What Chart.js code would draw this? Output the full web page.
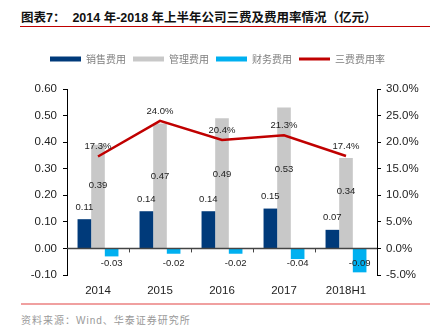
<!DOCTYPE html>
<html>
<head>
<meta charset="utf-8">
<script src="https://cdn.jsdelivr.net/npm/chart.js@4.4.0/dist/chart.umd.min.js"></script>
<style>
  body { margin: 0; width: 435px; height: 330px; background: #fff; position: relative; overflow: hidden;
         font-family: "Liberation Sans", Arial, "Noto Sans CJK SC", sans-serif; }
  #title { position: absolute; left: 21px; top: 7px; font-size: 12.5px; font-weight: bold; color: #111; white-space: nowrap; }
  #topline { position: absolute; left: 20px; top: 26px; width: 410px; height: 1px; background: #c00000; }
  #wrap { position: absolute; left: 0; top: 40px; width: 435px; height: 260px; }
  #botline { position: absolute; left: 21px; top: 303px; width: 409px; height: 2px; background: #f0a0a0; }
  #source { position: absolute; left: 21px; top: 312px; font-size: 10px; color: #999; letter-spacing: 1px; white-space: nowrap; }
</style>
</head>
<body>
<div id="title">图表7：&nbsp;&nbsp;2014 年-2018 年上半年公司三费及费用率情况（亿元）</div>
<div id="topline"></div>
<div id="wrap"><canvas id="feeChart" width="435" height="260"></canvas></div>
<div id="botline"></div>
<div id="source">资料来源：Wind、华泰证券研究所</div>
<script>
const years = ["2014", "2015", "2016", "2017", "2018H1"];
const salesFee = [0.11, 0.14, 0.14, 0.15, 0.07];
const adminFee = [0.39, 0.47, 0.49, 0.53, 0.34];
const financeFee = [-0.03, -0.02, -0.02, -0.04, -0.09];
const feeRate = [17.3, 24.0, 20.4, 21.3, 17.4];

Chart.defaults.font.family = "'Liberation Sans', Arial, sans-serif";

// zero line and small category ticks on it
const zeroLinePlugin = {
  id: "zeroLine",
  afterDatasetsDraw(chart) {
    const ctx = chart.ctx;
    const area = chart.chartArea;
    const y0 = chart.scales.y.getPixelForValue(0);
    const x = chart.scales.x;
    ctx.save();
    ctx.strokeStyle = "#444";
    ctx.lineWidth = 1.5;
    ctx.beginPath();
    ctx.moveTo(area.left, y0);
    ctx.lineTo(area.right, y0);
    ctx.stroke();
    ctx.lineWidth = 1;
    for (let i = 1; i < years.length; i++) {
      const xb = Math.round((x.getPixelForValue(i - 1) + x.getPixelForValue(i)) / 2) + 0.5;
      ctx.beginPath();
      ctx.moveTo(xb, y0);
      ctx.lineTo(xb, y0 + 4);
      ctx.stroke();
    }
    ctx.restore();
  }
};

const labelPlugin = {
  id: "valueLabels",
  afterDatasetsDraw(chart) {
    const ctx = chart.ctx;
    const area = chart.chartArea;
    const yL = chart.scales.y;
    ctx.save();
    ctx.font = "9.5px 'Liberation Sans', Arial";
    ctx.fillStyle = "#222";
    ctx.textAlign = "center";
    ctx.textBaseline = "middle";
    chart.data.datasets.forEach((ds, i) => {
      const meta = chart.getDatasetMeta(i);
      meta.data.forEach((el, j) => {
        const v = ds.data[j];
        let txt = v.toFixed(2);
        let y;
        if (ds.type === "line") {
          txt = v.toFixed(1) + "%";
          y = el.y - 10;
        } else if (i === 1) {
          // grey bars: label sits inside the bar, a bit below its middle
          y = yL.getPixelForValue(0.06 + v * 0.45);
        } else if (v >= 0) {
          y = el.y - 12;
        } else {
          y = Math.min(el.y + 10, area.bottom - 12);
        }
        ctx.fillText(txt, el.x, y);
      });
    });
    ctx.restore();
  }
};

const legendGap = {
  id: "legendGap",
  beforeInit(chart) {
    const fit = chart.legend.fit;
    chart.legend.fit = function () {
      fit.bind(chart.legend)();
      this.height += 15;
    };
  }
};

const fix0 = (v, d) => (Math.abs(v) < 1e-9 ? 0 : v).toFixed(d);

new Chart(document.getElementById("feeChart"), {
  type: "bar",
  data: {
    labels: years,
    datasets: [
      { label: "销售费用", data: salesFee, backgroundColor: "#003a7a", yAxisID: "y", order: 1,
        categoryPercentage: 0.66, barPercentage: 1.0 },
      { label: "管理费用", data: adminFee, backgroundColor: "#c8c8c8", yAxisID: "y", order: 1,
        categoryPercentage: 0.66, barPercentage: 1.0 },
      { label: "财务费用", data: financeFee, backgroundColor: "#00b0f0", yAxisID: "y", order: 1,
        categoryPercentage: 0.66, barPercentage: 1.0 },
      { label: "三费费用率", data: feeRate, type: "line", borderColor: "#c00000", backgroundColor: "#c00000",
        borderWidth: 2.5, pointRadius: 0, yAxisID: "y1", order: 0, tension: 0 }
    ]
  },
  options: {
    responsive: false,
    animation: false,
    layout: { padding: { left: 0, right: 0, top: 7, bottom: 0 } },
    plugins: {
      tooltip: { enabled: false },
      legend: {
        position: "top",
        labels: {
          usePointStyle: true,
          pointStyleWidth: 31,
          boxHeight: 5,
          padding: 7,
          color: "#7f7f7f",
          font: { size: 10, family: "'Noto Sans CJK SC'" },
          sort: (a, b) => a.datasetIndex - b.datasetIndex,
          generateLabels(chart) {
            const items = Chart.defaults.plugins.legend.labels.generateLabels(chart);
            items.forEach(it => {
              const ds = chart.data.datasets[it.datasetIndex];
              it.pointStyle = ds.type === "line" ? "line" : "rect";
              it.lineWidth = ds.type === "line" ? 3 : 0;
            });
            return items;
          }
        }
      }
    },
    scales: {
      x: {
        grid: { display: false },
        border: { display: false },
        ticks: { padding: 1, color: "#222", font: { size: 11.5 } },
        afterFit(s) { s.height = 25; }
      },
      y: {
        position: "left",
        min: -0.1,
        max: 0.6,
        grid: { drawOnChartArea: false, tickLength: 4, tickColor: "#000" },
        border: { color: "#000", width: 1 },
        ticks: { stepSize: 0.1, padding: 6, color: "#222", font: { size: 11.5 },
                 callback: v => fix0(v, 2) },
        afterFit(s) { s.width = 67; }
      },
      y1: {
        position: "right",
        min: -5,
        max: 30,
        grid: { drawOnChartArea: false, tickLength: 4, tickColor: "#000" },
        border: { color: "#000", width: 1 },
        ticks: { stepSize: 5, padding: 5, color: "#222", font: { size: 11.5 },
                 callback: v => fix0(v, 1) + "%" },
        afterFit(s) { s.width = 58; }
      }
    }
  },
  plugins: [legendGap, zeroLinePlugin, labelPlugin]
});
</script>
</body>
</html>
